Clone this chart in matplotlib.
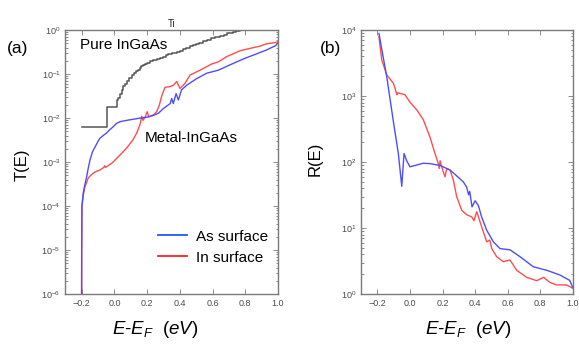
import numpy as np
import matplotlib
matplotlib.use("Agg")
import matplotlib.pyplot as plt
from matplotlib.lines import Line2D

plt.rcParams['font.family'] = ['Liberation Sans', 'DejaVu Sans']
plt.rcParams['mathtext.fontset'] = 'custom'
plt.rcParams['mathtext.it'] = 'Liberation Sans:italic'
plt.rcParams['mathtext.rm'] = 'Liberation Sans'

# (a) transmission, pure InGaAs (Ti), staircase
pure_x = [-0.20, -0.048, 0.013, 0.023, 0.034, 0.044, 0.052, 0.063, 0.075, 0.09,
          0.105, 0.118, 0.13, 0.143, 0.156, 0.165, 0.175, 0.186, 0.197, 0.215,
          0.236, 0.26, 0.28, 0.297, 0.315, 0.33, 0.355, 0.381, 0.40, 0.42,
          0.44, 0.462, 0.48, 0.50, 0.52, 0.542, 0.565, 0.59, 0.615, 0.646,
          0.67, 0.69, 0.71, 0.726, 0.745, 0.769]
pure_T = [6.2e-3, 1.8e-2, 2.6e-2, 2.9e-2, 3.6e-2, 4.4e-2, 5.5e-2, 6.0e-2, 6.8e-2, 8.1e-2,
          0.095, 0.105, 0.115, 0.125, 0.14, 0.152, 0.16, 0.17, 0.18, 0.195,
          0.205, 0.22, 0.235, 0.25, 0.265, 0.285, 0.30, 0.32, 0.34, 0.37,
          0.40, 0.43, 0.46, 0.49, 0.52, 0.56, 0.60, 0.645, 0.69, 0.74,
          0.79, 0.84, 0.87, 0.91, 0.95, 1.0]

# (a) As surface
as_x = [-0.201, -0.2005, -0.199, -0.191, -0.18, -0.17, -0.16, -0.15, -0.135, -0.119,
        -0.10, -0.089, -0.07, -0.048, -0.03, -0.009, 0.013, 0.034, 0.075, 0.12,
        0.156, 0.20, 0.238, 0.27, 0.30, 0.341, 0.35, 0.36, 0.377, 0.391,
        0.41, 0.442, 0.503, 0.565, 0.636, 0.70, 0.748, 0.80, 0.85, 0.90,
        0.932, 0.96, 0.985, 1.0]
as_T = [1e-6, 1e-5, 1e-4, 2.0e-4, 3.2e-4, 4.7e-4, 7.4e-4, 1.1e-3, 1.7e-3, 2.2e-3,
        3.0e-3, 3.5e-3, 4.0e-3, 4.6e-3, 5.4e-3, 6.3e-3, 7.6e-3, 8.3e-3, 8.9e-3, 9.5e-3,
        1.0e-2, 1.05e-2, 1.15e-2, 1.3e-2, 1.66e-2, 2.14e-2, 2.8e-2, 2.14e-2, 3.6e-2, 2.57e-2,
        4.37e-2, 5.6e-2, 7.9e-2, 0.105, 0.123, 0.158, 0.19, 0.23, 0.27, 0.32,
        0.355, 0.40, 0.44, 0.51]

# (a) In surface
in_x = [-0.201, -0.2005, -0.199, -0.19, -0.181, -0.17, -0.16, -0.145, -0.13, -0.11,
        -0.089, -0.065, -0.06, -0.055, -0.03, -0.009, 0.034, 0.075, 0.113, 0.135,
        0.156, 0.167, 0.175, 0.19, 0.20, 0.21, 0.24, 0.258, 0.275, 0.289,
        0.309, 0.34, 0.36, 0.381, 0.401, 0.432, 0.462, 0.524, 0.595, 0.636,
        0.687, 0.769, 0.85, 0.89, 0.93, 0.97, 1.0]
in_T = [1e-6, 1e-5, 1e-4, 1.8e-4, 2.75e-4, 3.5e-4, 4.4e-4, 5.0e-4, 5.6e-4, 6.2e-4,
        6.6e-4, 7.6e-4, 8.3e-4, 7.6e-4, 8.7e-4, 1.0e-3, 1.45e-3, 2.1e-3, 3.2e-3, 4.5e-3,
        7.1e-3, 1.1e-2, 8.9e-3, 1.1e-2, 1.4e-2, 1.07e-2, 1.2e-2, 1.4e-2, 2.0e-2, 3.2e-2,
        5.0e-2, 5.2e-2, 5.6e-2, 6.8e-2, 4.7e-2, 6.2e-2, 9.5e-2, 0.123, 0.17, 0.19,
        0.25, 0.34, 0.40, 0.43, 0.49, 0.51, 0.54]

# (b) As surface
as_rx = [-0.19, -0.142, -0.10, -0.071, -0.05, -0.036, -0.02, -0.01, 0.0, 0.031,
         0.08, 0.123, 0.185, 0.246, 0.30, 0.328, 0.348, 0.36, 0.367, 0.381,
         0.40, 0.42, 0.44, 0.471, 0.512, 0.553, 0.614, 0.675, 0.757, 0.84,
         0.92, 0.98, 1.0]
as_R = [8900, 1950, 390, 135, 43, 135, 105, 95, 85, 89,
        96, 95, 89, 76, 58, 50, 42, 32, 36, 21,
        26, 22, 14.8, 9.3, 6.2, 4.9, 4.7, 3.7, 2.6, 2.3,
        1.95, 1.62, 1.25]

# (b) In surface
in_rx = [-0.19, -0.173, -0.142, -0.10, -0.08, -0.075, -0.061, -0.03, 0.0, 0.042,
         0.082, 0.123, 0.154, 0.174, 0.18, 0.185, 0.195, 0.215, 0.226, 0.246,
         0.266, 0.287, 0.318, 0.348, 0.379, 0.393, 0.41, 0.44, 0.471, 0.49,
         0.502, 0.532, 0.573, 0.614, 0.655, 0.716, 0.778, 0.82, 0.86, 0.90,
         0.96, 1.0]
in_R = [7900, 3550, 2090, 1550, 1050, 1120, 1100, 1050, 810, 620,
        440, 240, 135, 95, 80, 105, 85, 60, 80, 76,
        54, 30, 18.6, 16, 14.8, 13, 17.8, 10.5, 6.2, 6.6,
        4.9, 3.7, 3.1, 3.3, 2.3, 1.8, 1.6, 1.8, 1.5, 1.38,
        1.38, 1.23]

x_ticks = [-0.2, 0.0, 0.2, 0.4, 0.6, 0.8, 1.0]

blue = '#4d4dff'
red = '#ff4d4d'
spine_col = '#7a7a7a'
tick_col = '#4a4a4a'


def style_axes(ax, ylim):
    ax.set_xlim(-0.3, 1.0)
    ax.set_yscale('log')
    ax.set_ylim(*ylim)
    ax.set_xticks(x_ticks)
    ax.set_xticklabels(['\u22120.2', '0.0', '0.2', '0.4', '0.6', '0.8', '1.0'])
    ax.tick_params(which='both', direction='in', top=True, right=True,
                   colors=spine_col, labelcolor=tick_col, labelsize=6.5, width=0.6)
    ax.tick_params(which='major', length=3.5)
    ax.tick_params(which='minor', length=1.8)
    for s in ax.spines.values():
        s.set_color(spine_col)
        s.set_linewidth(1.0)


fig = plt.figure(figsize=(5.79, 3.54), dpi=100)
ax1 = fig.add_axes([0.113, 0.169, 0.367, 0.746])
ax2 = fig.add_axes([0.6235, 0.169, 0.366, 0.746])

# panel (a)
ax1.plot(pure_x, pure_T, color='#555555', lw=1.1, drawstyle='steps-post')
ax1.plot(in_x, in_T, color=red, lw=1.0)
ax1.plot(as_x, as_T, color=blue, lw=1.0)
style_axes(ax1, (1e-6, 1e0))
ax1.set_title('Ti', fontsize=7, pad=2, color='#222222')
ax1.text(0.07, 0.93, 'Pure InGaAs', transform=ax1.transAxes, fontsize=11)
ax1.text(0.375, 0.575, 'Metal-InGaAs', transform=ax1.transAxes, fontsize=11)

handles = [Line2D([], [], color='#1a5cff', lw=1.3), Line2D([], [], color='#ff2020', lw=1.3)]
ax1.legend(handles, ['As surface', 'In surface'], loc='lower right', frameon=False,
           fontsize=11, handlelength=1.9, handletextpad=0.6, labelspacing=0.45,
           bbox_to_anchor=(1.02, 0.06))

# panel (b)
ax2.plot(in_rx, in_R, color=red, lw=1.0)
ax2.plot(as_rx, as_R, color=blue, lw=1.0)
style_axes(ax2, (1e0, 1e4))

xlab = r'$E$-$E_F$  $(eV)$'
fig.text(0.268, 0.068, xlab, fontsize=13.5, ha='center', va='center')
fig.text(0.808, 0.068, xlab, fontsize=13.5, ha='center', va='center')
fig.text(0.038, 0.535, 'T(E)', fontsize=12, rotation=90, ha='center', va='center')
fig.text(0.545, 0.55, 'R(E)', fontsize=12, rotation=90, ha='center', va='center')
fig.text(0.012, 0.862, '(a)', fontsize=12.5, ha='left', va='center')
fig.text(0.553, 0.862, '(b)', fontsize=12.5, ha='left', va='center')

fig.savefig('out.png', dpi=100)
